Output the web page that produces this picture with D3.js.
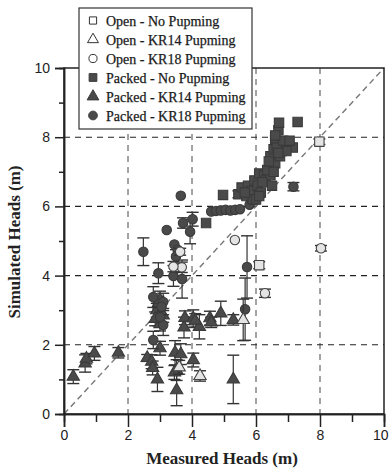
<!DOCTYPE html>
<html><head><meta charset="utf-8">
<script src="https://cdn.jsdelivr.net/npm/d3@7"></script>
<style>body{margin:0;background:#fff}svg{display:block}</style>
</head><body><svg id="c" width="389" height="470"></svg>
<script>
// [measured, simulated, errorHalfWidth]
const openNoPumping = [[7.98,7.87,0.08],[6.1,4.3,0.1]];
const openKR14 = [[4.25,1.1,0.15],[5.6,2.72,0.6],[3.6,1.35,0.2]];
const openKR18 = [[8.03,4.79,0.08],[6.28,3.49,0.12],[5.34,5.03,0],[3.63,4.69,0.1],[3.68,4.24,0.15],[3.42,4.26,0.15]];
const packedNoPumping = [[4.44,5.52,0],[4.97,6.33,0],[5.45,6.35,0.1],[5.55,6.55,0],[5.7,6.3,0],[5.75,6.6,0],[5.85,6.45,0],[5.9,6.2,0],[5.95,6.75,0],[6.05,6.6,0],[6.1,6.95,0],[6.15,6.4,0],[6.25,6.9,0],[6.3,6.75,0],[6.45,6.9,0],[6.5,7.15,0],[6.45,7.45,0],[6.6,7.25,0],[6.55,7.65,0],[6.6,7.95,0],[6.7,8.2,0],[6.72,8.42,0],[6.8,7.6,0],[6.9,7.8,0],[6.75,7.45,0],[7.0,7.75,0],[7.15,7.7,0],[7.3,8.44,0],[6.35,7.05,0],[6.0,6.2,0],[6.4,7.3,0],[6.55,7.0,0],[6.65,7.7,0],[6.85,7.9,0],[6.95,7.6,0],[7.05,7.9,0],[6.5,6.6,0],[6.2,6.7,0],[5.65,6.4,0],[6.1,6.3,0],[6.7,7.55,0],[6.6,8.05,0]];
const packedKR14 = [[0.29,1.08,0.2],[0.66,1.46,0.25],[0.7,1.6,0.15],[0.95,1.75,0.2],[1.7,1.77,0.15],[2.6,1.62,0.1],[2.74,1.51,0.2],[2.77,1.33,0.2],[2.92,1.0,0.35],[3.0,1.9,0.2],[3.47,1.77,0.35],[3.65,1.73,0.3],[3.52,1.27,0.3],[3.45,1.2,0.2],[3.52,0.69,0.45],[5.29,1.0,0.7],[4.04,1.56,0.2],[3.75,2.5,0.3],[3.78,2.78,0.2],[4.04,2.76,0.25],[4.23,2.52,0.35],[4.56,2.77,0.2],[4.6,2.65,0.15],[4.9,2.91,0.35],[5.29,2.72,0.15],[2.9,3.0,0.2],[2.95,2.8,0.25],[3.0,2.6,0.2],[3.05,2.9,0.3],[2.85,2.75,0.2],[3.1,2.85,0.2],[2.95,3.2,0.2],[3.0,3.3,0.25],[4.1,2.7,0.2]];
const packedKR18 = [[3.65,6.31,0],[4.6,5.85,0],[4.75,5.87,0],[4.9,5.88,0],[5.05,5.9,0],[5.2,5.88,0],[5.35,5.9,0],[5.5,5.92,0],[5.8,6.05,0],[5.85,6.2,0],[4.02,5.63,0.2],[3.72,5.52,0.15],[3.94,5.27,0.35],[3.21,5.32,0],[2.48,4.69,0.4],[3.45,4.9,0],[3.55,4.75,0],[3.5,4.55,0.2],[2.95,4.07,0.3],[3.42,3.99,0.3],[3.69,3.9,0.55],[5.72,4.25,0.9],[5.66,3.03,0.9],[2.79,3.38,0.3],[3.1,3.24,0.25],[3.05,3.1,0],[3.1,2.57,0.3],[2.79,2.14,0.25],[3.0,2.8,0],[7.17,6.57,0.12]];
const legendLabels = ["Open - No Pupming","Open - KR14 Pupming","Open - KR18 Pupming","Packed - No Pupming","Packed - KR14 Pupming","Packed - KR18 Pupming"];
const majorTicks = [0,2,4,6,8,10];
const minorTicks = [1,3,5,7,9];

const svg = d3.select("#c");
const x = d3.scaleLinear().domain([0,10]).range([64,384]);
const y = d3.scaleLinear().domain([0,10]).range([414,68]);
const dark = "#4a4a4a", openFill = "#e4e4e4";

// grid
const g = svg.append("g");
g.selectAll(".vg").data([2,4,6,8]).join("line")
  .attr("x1",d=>x(d)).attr("x2",d=>x(d)).attr("y1",y(10)).attr("y2",y(0))
  .attr("stroke","#333").attr("stroke-width",0.9).attr("stroke-dasharray","6,5");
g.selectAll(".hg").data([2,4,6,8]).join("line")
  .attr("x1",x(0)).attr("x2",x(10)).attr("y1",d=>y(d)).attr("y2",d=>y(d))
  .attr("stroke","#222").attr("stroke-width",1.1).attr("stroke-dasharray","6,5");
// diagonal
g.append("line").attr("x1",x(0)).attr("y1",y(0)).attr("x2",x(10)).attr("y2",y(10))
  .attr("stroke","#777").attr("stroke-width",1.4).attr("stroke-dasharray","6,4");

// frame
svg.append("rect").attr("x",x(0)).attr("y",y(10)).attr("width",x(10)-x(0)).attr("height",y(0)-y(10))
  .attr("fill","none").attr("stroke","#222").attr("stroke-width",1.5);

// axes
const xa = svg.append("g").attr("transform",`translate(0,${y(0)})`)
  .call(d3.axisBottom(x).tickValues(majorTicks).tickSize(13).tickPadding(3).tickFormat(d3.format("d")));
const xm = svg.append("g").attr("transform",`translate(0,${y(0)})`)
  .call(d3.axisBottom(x).tickValues(minorTicks).tickSize(8).tickFormat(""));
const ya = svg.append("g").attr("transform",`translate(${x(0)},0)`)
  .call(d3.axisLeft(y).tickValues(majorTicks).tickSize(9).tickPadding(5).tickFormat(d3.format("d")));
const ym = svg.append("g").attr("transform",`translate(${x(0)},0)`)
  .call(d3.axisLeft(y).tickValues(minorTicks).tickSize(5).tickFormat(""));
[xa,xm,ya,ym].forEach(a=>{
  a.select(".domain").attr("stroke","#222").attr("stroke-width",1.5);
  a.selectAll(".tick line").attr("stroke","#222").attr("stroke-width",1.5);
  a.selectAll("text").attr("font-family","Liberation Sans, Arial, sans-serif").attr("font-size",14).attr("fill","#222");
});
// keep the last x label inside the window
xa.selectAll(".tick text").filter(d=>d===10).attr("text-anchor","end").attr("dx",4);

// markers
const sym = {square:d3.symbolSquare, triangle:d3.symbolTriangle, circle:d3.symbolCircle};
const sizes = {square:88, triangle:66, circle:70};
function series(data, shape, filled){
  const s = svg.append("g");
  const e = data.filter(d=>d[2]>0);
  s.selectAll(".eb").data(e).join("line")
    .attr("x1",d=>x(d[0])).attr("x2",d=>x(d[0])).attr("y1",d=>y(d[1]-d[2])).attr("y2",d=>y(d[1]+d[2]))
    .attr("stroke","#333").attr("stroke-width",1.2);
  [1,-1].forEach(sg=>{
    s.selectAll(".cap"+sg).data(e).join("line")
      .attr("x1",d=>x(d[0])-6).attr("x2",d=>x(d[0])+6)
      .attr("y1",d=>y(d[1]+sg*d[2])).attr("y2",d=>y(d[1]+sg*d[2]))
      .attr("stroke","#333").attr("stroke-width",1.4);
  });
  s.selectAll("path").data(data).join("path")
    .attr("transform",d=>`translate(${x(d[0])},${y(d[1])})`)
    .attr("d",d3.symbol().type(sym[shape]).size(sizes[shape]))
    .attr("fill",filled?dark:openFill).attr("stroke",filled?"#3a3a3a":"#444").attr("stroke-width",1.1);
}
series(packedKR14,"triangle",true);
series(packedKR18,"circle",true);
series(packedNoPumping,"square",true);
series(openKR14,"triangle",false);
series(openKR18,"circle",false);
series(openNoPumping,"square",false);

// axis titles
svg.append("text").attr("x",222).attr("y",464).attr("text-anchor","middle")
  .attr("font-family","Liberation Serif, Times New Roman, serif").attr("font-weight","bold").attr("font-size",17).attr("fill","#222")
  .text("Measured Heads (m)");
svg.append("text").attr("transform","translate(20,242) rotate(-90)").attr("text-anchor","middle")
  .attr("font-family","Liberation Serif, Times New Roman, serif").attr("font-weight","bold").attr("font-size",17).attr("fill","#222")
  .text("Simulated Heads (m)");

// legend
const lg = svg.append("g");
lg.append("rect").attr("x",79).attr("y",8).attr("width",173).attr("height",121)
  .attr("fill","#fff").attr("stroke","#333").attr("stroke-width",1.2);
const lshapes = ["square","triangle","circle","square","triangle","circle"];
const lrows = lg.selectAll(".row").data(legendLabels).join("g")
  .attr("transform",(d,i)=>`translate(0,${20.5+i*19})`);
lrows.append("path").attr("transform","translate(93,0)")
  .attr("d",(d,i)=>d3.symbol().type(sym[lshapes[i]]).size(i<3?52:60)())
  .attr("fill",(d,i)=>i<3?"#fff":dark).attr("stroke",(d,i)=>i<3?"#333":"#3a3a3a").attr("stroke-width",1);
lrows.append("text").attr("x",106).attr("y",5)
  .attr("font-family","Liberation Serif, Times New Roman, serif").attr("font-size",14).attr("fill","#1a1a1a")
  .attr("stroke","#1a1a1a").attr("stroke-width",0.25)
  .text(d=>d);
</script></body></html>
